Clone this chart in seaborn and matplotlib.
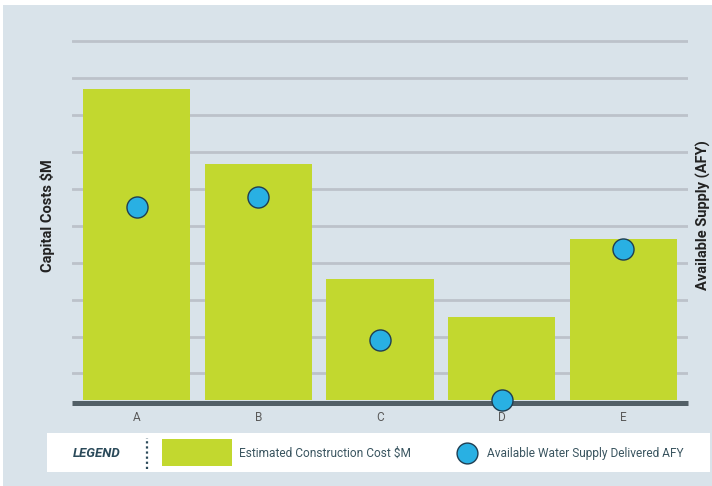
import matplotlib
matplotlib.use("Agg")
import matplotlib.pyplot as plt
import seaborn as sns
import pandas as pd
from matplotlib.patches import Rectangle
from matplotlib.lines import Line2D
from matplotlib import font_manager

categories = ["A", "B", "C", "D", "E"]
construction_cost = [84.3, 64.0, 32.8, 22.5, 43.6]
water_supply_afy = [5220, 5500, 1620, 0, 4090]
grid_levels = [7.2, 17.2, 27.2, 37.2, 47.2, 57.2, 67.2, 77.2, 87.2, 97.2]

sns.set_theme(style="white")
names = {f.name for f in font_manager.fontManager.ttflist}
fam = "Liberation Sans Narrow" if "Liberation Sans Narrow" in names else "Roboto"
plt.rcParams["font.family"] = [fam, "DejaVu Sans"]

BG = "#d9e3ea"
GREEN = "#c2d82f"
BLUE = "#29b0e3"
DARK = "#1f3e52"

df = pd.DataFrame({"cat": categories, "cost": construction_cost, "afy": water_supply_afy})

fig = plt.figure(figsize=(7.12, 4.86), dpi=100, facecolor=BG)
W, H = 712, 486
ax = fig.add_axes([72 / W, (H - 400) / H, (688 - 72) / W, 369 / H])
ax.set_facecolor(BG)

sns.barplot(data=df, x="cat", y="cost", color=GREEN, width=0.88, saturation=1,
            linewidth=0, edgecolor="none", ax=ax, zorder=3)
ax.set_xlim(-0.53, 4.53)
ax.set_ylim(0, 100)
ax.set_yticks(grid_levels)
ax.set_yticklabels([])
ax.tick_params(axis="y", length=0)
ax.yaxis.grid(True, color="#bcc2ca", linewidth=2.0, zorder=0)
ax.set_axisbelow(True)
for s in ["top", "left", "right"]:
    ax.spines[s].set_visible(False)
ax.spines["bottom"].set_color("#525f66")
ax.spines["bottom"].set_linewidth(3.6)
ax.spines["bottom"].set_capstyle("butt")
ax.spines["bottom"].set_position(("outward", 1.8))
ax.spines["bottom"].set_zorder(5)
ax.tick_params(axis="x", length=0, pad=6, labelsize=8.5, labelcolor="#5a5a5a")
ax.set_xlabel("")
ax.set_ylabel("Capital Costs $M", fontsize=10.5, fontweight="bold", color="#222222", labelpad=9)

ax2 = ax.twinx()
sns.scatterplot(data=df, x="cat", y="afy", s=230, color=BLUE, edgecolor=DARK,
                linewidth=1.0, ax=ax2, zorder=6, clip_on=False)
ax2.set_ylim(0, 10000)
ax2.set_yticks([])
ax2.set_ylabel("Available Supply (AFY)", fontsize=10.5, fontweight="bold", color="#222222", labelpad=6)
ax2.set_xlabel("")
for s in ax2.spines.values():
    s.set_visible(False)
ax2.set_xlim(-0.53, 4.53)

# white edges
fig.patches.append(Rectangle((0, (H - 5) / H), 1, 5 / H, transform=fig.transFigure,
                             facecolor="white", edgecolor="none", zorder=0))
fig.patches.append(Rectangle((0, 0), 3 / W, 1, transform=fig.transFigure,
                             facecolor="white", edgecolor="none", zorder=0))

# legend band
fig.patches.append(Rectangle((47 / W, (H - 472) / H), (710 - 47) / W, 39 / H,
                             transform=fig.transFigure, facecolor="white",
                             edgecolor="none", zorder=1))
fig.text(97 / W, (H - 453) / H, "LEGEND", fontsize=9.5, fontweight="bold",
         fontstyle="italic", color="#2b4a5a", ha="center", va="center")
fig.lines.append(Line2D([147 / W, 147 / W], [(H - 469) / H, (H - 438) / H],
                        transform=fig.transFigure, color="#2b4a5a",
                        linestyle=(0, (1, 1.3)), linewidth=1.6))
fig.patches.append(Rectangle((162 / W, (H - 466) / H), 70 / W, 27 / H,
                             transform=fig.transFigure, facecolor=GREEN,
                             edgecolor="none", zorder=2))
fig.text(239 / W, (H - 453) / H, "Estimated Construction Cost $M", fontsize=8.6,
         color="#3a5560", ha="left", va="center")
fig.lines.append(Line2D([467 / W], [(H - 453) / H], transform=fig.transFigure,
                        marker="o", markersize=15, markerfacecolor=BLUE,
                        markeredgecolor=DARK, markeredgewidth=1.0, linestyle="none"))
fig.text(487 / W, (H - 453) / H, "Available Water Supply Delivered AFY", fontsize=8.6,
         color="#3a5560", ha="left", va="center")

fig.savefig("out.png", dpi=100, facecolor=BG)
